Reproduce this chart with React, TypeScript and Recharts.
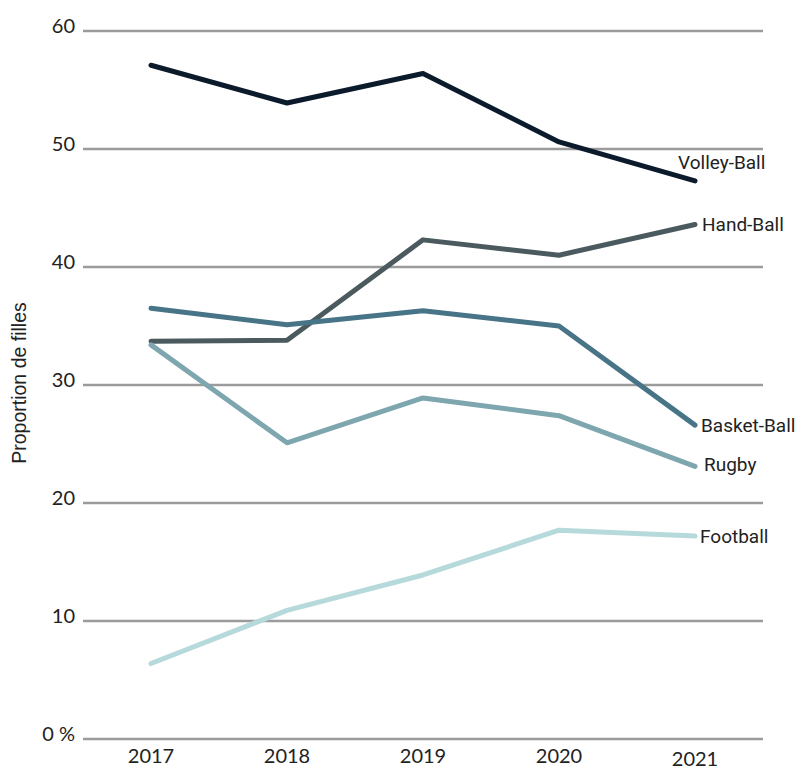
import { CartesianGrid, Line, LineChart, XAxis, YAxis } from 'recharts';

const years = ['2017', '2018', '2019', '2020', '2021'];
const volleyBall = [57.1, 53.9, 56.4, 50.6, 47.3];
const handBall = [33.7, 33.8, 42.3, 41.0, 43.6];
const basketBall = [36.5, 35.1, 36.3, 35.0, 26.6];
const rugby = [33.4, 25.1, 28.9, 27.4, 23.1];
const football = [6.4, 10.9, 13.9, 17.7, 17.2];
const yTicks = [0, 10, 20, 30, 40, 50, 60];

const data = years.map((year, i) => ({
  year,
  volley: volleyBall[i],
  hand: handBall[i],
  basket: basketBall[i],
  rugby: rugby[i],
  football: football[i],
}));

const series = [
  { key: 'volley', name: 'Volley-Ball', color: '#0c1b2b', dx: -17, dy: -18 },
  { key: 'hand', name: 'Hand-Ball', color: '#4a5a5e', dx: 7, dy: 0 },
  { key: 'basket', name: 'Basket-Ball', color: '#477487', dx: 6, dy: 0 },
  { key: 'rugby', name: 'Rugby', color: '#7ea6af', dx: 9, dy: -2 },
  { key: 'football', name: 'Football', color: '#b6d9db', dx: 5, dy: 0 },
];

const tickFont = 'Lato, "DejaVu Sans", sans-serif';

function YTick({ x, y, payload }: any) {
  const v = payload.value;
  return (
    <text x={x} y={y - 6} textAnchor="end" dominantBaseline="central" fill="#222" fontSize={20} fontFamily={tickFont}>
      {v === 0 ? '0 %' : v}
    </text>
  );
}

// tick y sits just under the plot; 2021 is a touch lower in the original
function XTick({ x, y, payload }: any) {
  const shift = payload.value === '2021' ? 3 : 0;
  return (
    <text x={x} y={y + 8 + shift} textAnchor="middle" dominantBaseline="central" fill="#222" fontSize={20} fontFamily={tickFont}>
      {payload.value}
    </text>
  );
}

function AxisTitle() {
  return (
    <text
      x={19}
      y={383}
      transform="rotate(-90 19 383)"
      textAnchor="middle"
      dominantBaseline="central"
      fill="#222"
      fontSize={19.5}
      fontFamily='"Liberation Sans", Arial, sans-serif'
    >
      Proportion de filles
    </text>
  );
}

function endLabel(name: string, dx: number, dy: number) {
  return (props: any) => {
    if (props.index !== years.length - 1) return null;
    return (
      <text
        key={name}
        x={props.x + dx}
        y={props.y + dy}
        dominantBaseline="central"
        fill="#222"
        fontSize={19}
        fontFamily='"Liberation Sans Narrow", "Roboto", sans-serif'
      >
        {name}
      </text>
    );
  };
}

export default function App() {
  return (
    <div style={{ position: 'absolute', top: 0, left: 0, background: '#fff', width: 803, height: 771 }}>
      <LineChart width={803} height={771} data={data} margin={{ top: 31, right: 40, left: 8, bottom: 2 }}>
        <CartesianGrid horizontal vertical={false} stroke="#9b9b9b" strokeWidth={2.5} />
        <XAxis
          dataKey="year"
          axisLine={false}
          tickLine={false}
          padding={{ left: 68, right: 68 }}
          height={30}
          tick={<XTick />}
          interval={0}
        />
        <YAxis
          domain={[0, 60]}
          ticks={yTicks}
          axisLine={false}
          tickLine={false}
          width={75}
          tick={<YTick />}
          label={<AxisTitle />}
        />
        {series.map((s) => (
          <Line
            key={s.key}
            dataKey={s.key}
            name={s.name}
            type="linear"
            stroke={s.color}
            strokeWidth={5}
            strokeLinecap="round"
            strokeLinejoin="round"
            dot={false}
            activeDot={false}
            isAnimationActive={false}
            label={endLabel(s.name, s.dx, s.dy)}
          />
        ))}
      </LineChart>
    </div>
  );
}
